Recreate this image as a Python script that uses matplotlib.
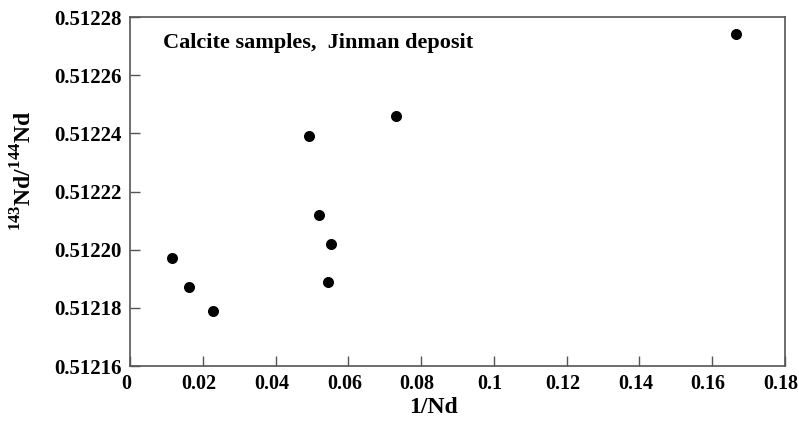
import numpy as np
import matplotlib.pyplot as plt
import matplotlib.transforms as mtransforms
from matplotlib.ticker import FuncFormatter

# 1/Nd and 143Nd/144Nd for the calcite samples
inv_nd = [0.0115, 0.0162, 0.0229, 0.0493, 0.0519, 0.0543, 0.0551, 0.0731, 0.1665]
nd_ratio = [0.512197, 0.512187, 0.512179, 0.512239, 0.512212, 0.512189, 0.512202, 0.512246, 0.512274]

x_ticks = [0, 0.02, 0.04, 0.06, 0.08, 0.1, 0.12, 0.14, 0.16, 0.18]
y_ticks = [0.51216, 0.51218, 0.51220, 0.51222, 0.51224, 0.51226, 0.51228]

plt.rcParams['font.family'] = ['Liberation Serif', 'DejaVu Serif']
plt.rcParams['mathtext.fontset'] = 'custom'
plt.rcParams['mathtext.rm'] = 'Liberation Serif:bold'

fig = plt.figure(figsize=(7.99, 4.23), dpi=100)
ax = fig.add_axes([130 / 799, 1 - 366 / 423, 655 / 799, 349 / 423])

ax.scatter(inv_nd, nd_ratio, s=48, color='black', zorder=3)

ax.set_xlim(0, 0.18)
ax.set_ylim(0.51216, 0.51228)
ax.set_xticks(x_ticks)
ax.set_yticks(y_ticks)
ax.xaxis.set_major_formatter(FuncFormatter(lambda v, p: ('%.2f' % v).rstrip('0').rstrip('.') if v else '0'))
ax.yaxis.set_major_formatter(FuncFormatter(lambda v, p: '%.5f' % v))

ax.tick_params(direction='in', length=7, width=1, color='#555555',
               labelsize=15, pad=6, top=False, right=False)
ax.tick_params(axis='x', labelsize=14.5)
for lab in ax.get_xticklabels() + ax.get_yticklabels():
    lab.set_fontweight('bold')
# x tick labels sit a little left of their ticks in the original
shift = mtransforms.ScaledTranslation(-4 / 100, 0, fig.dpi_scale_trans)
for lab in ax.get_xticklabels():
    lab.set_transform(lab.get_transform() + shift)
for sp in ax.spines.values():
    sp.set_color('#555555')
    sp.set_linewidth(1.2)

ax.set_xlabel('1/Nd', fontsize=17, fontweight='bold')
ax.xaxis.set_label_coords(0.4626, -0.089)
ax.set_ylabel(r'$^{143}$Nd/$^{144}$Nd', fontsize=17, fontweight='bold')
ax.yaxis.set_label_coords(-0.143, 0.56)

ax.text(0.0091, 0.512271, 'Calcite samples,  Jinman deposit', fontsize=16,
        fontweight='bold', va='center', ha='left')

fig.savefig('out.png', dpi=100)
